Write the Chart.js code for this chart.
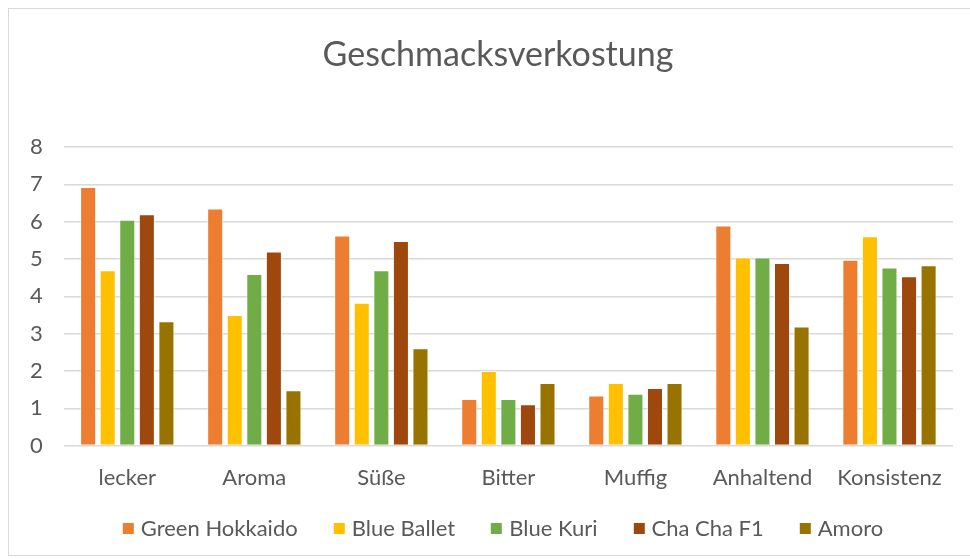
<!DOCTYPE html>
<html>
<head>
<meta charset="utf-8">
<script src="https://cdn.jsdelivr.net/npm/chart.js@4/dist/chart.umd.min.js"></script>
<style>
  html, body { margin: 0; padding: 0; background: #fff; }
  #wrap { position: relative; width: 970px; height: 559px; overflow: hidden; font-family: Lato, 'Open Sans', sans-serif; color: #595959; }
  #frame { position: absolute; left: 8px; top: 8px; width: 970px; height: 548px; border: 1px solid #d9d9d9; box-sizing: border-box; }
  canvas { position: absolute; left: 0; top: 0; }
  #titel { position: absolute; left: 498px; top: 33px; transform: translateX(-50%); font-size: 34px; line-height: 40px; white-space: nowrap; }
  #legende { position: absolute; left: 503px; top: 515px; transform: translateX(-50%); display: flex; font-size: 22px; line-height: 26px; white-space: nowrap; }
  #legende span.item { display: flex; align-items: center; margin-right: 36px; }
  #legende span.item:last-child { margin-right: 0; }
  #legende i { display: inline-block; width: 11px; height: 11px; margin-right: 7px; }
</style>
</head>
<body>
<div id="wrap">
  <div id="frame"></div>
  <canvas id="grafico" width="970" height="559"></canvas>
  <div id="titel">Geschmacksverkostung</div>
  <div id="legende"></div>
</div>
<script>
const kategorien = ['lecker', 'Aroma', 'Süße', 'Bitter', 'Muffig', 'Anhaltend', 'Konsistenz'];
const greenHokkaido = [6.93, 6.35, 5.63, 1.25, 1.34, 5.9, 4.98];
const blueBallet = [4.7, 3.5, 3.83, 2.0, 1.68, 5.04, 5.61];
const blueKuri = [6.05, 4.6, 4.7, 1.25, 1.39, 5.04, 4.77];
const chaCha = [6.2, 5.2, 5.48, 1.11, 1.54, 4.89, 4.54];
const amoro = [3.33, 1.48, 2.61, 1.68, 1.68, 3.19, 4.83];
const yTicks = [0, 1, 2, 3, 4, 5, 6, 7, 8];

const schrift = "Lato, 'Open Sans', sans-serif";
const grau = '#595959';

function serie(name, werte, farbe) {
  return {
    label: name,
    data: werte,
    backgroundColor: farbe,
    borderColor: 'rgba(255,255,255,0.6)',
    borderWidth: 1,
    categoryPercentage: 0.77,
    barPercentage: 0.82
  };
}

const ctx = document.getElementById('grafico');

const chart = new Chart(ctx, {
  type: 'bar',
  data: {
    labels: kategorien,
    datasets: [
      serie('Green Hokkaido', greenHokkaido, '#ED7D31'),
      serie('Blue Ballet', blueBallet, '#FFC000'),
      serie('Blue Kuri', blueKuri, '#70AD47'),
      serie('Cha Cha F1', chaCha, '#9E480E'),
      serie('Amoro', amoro, '#997300')
    ]
  },
  options: {
    responsive: false,
    animation: false,
    layout: { padding: { left: 9, right: 17, top: 147, bottom: 57 } },
    plugins: {
      title: { display: false },
      legend: { display: false },
      tooltip: { enabled: false }
    },
    scales: {
      x: {
        grid: { display: false },
        border: { display: false },
        ticks: { color: grau, font: { family: schrift, size: 22 }, padding: 11 }
      },
      y: {
        min: 0,
        max: 8,
        afterBuildTicks: axis => { axis.ticks = yTicks.map(v => ({ value: v })); },
        grid: { color: '#d9d9d9', lineWidth: 1.5, drawTicks: false },
        border: { display: false },
        ticks: { color: grau, font: { family: schrift, size: 22 }, padding: 21 }
      }
    }
  }
});

// Legende als HTML unter dem Diagramm
const legende = document.getElementById('legende');
chart.data.datasets.forEach(ds => {
  const item = document.createElement('span');
  item.className = 'item';
  const box = document.createElement('i');
  box.style.background = ds.backgroundColor;
  item.appendChild(box);
  item.appendChild(document.createTextNode(ds.label));
  legende.appendChild(item);
});
</script>
</body>
</html>
